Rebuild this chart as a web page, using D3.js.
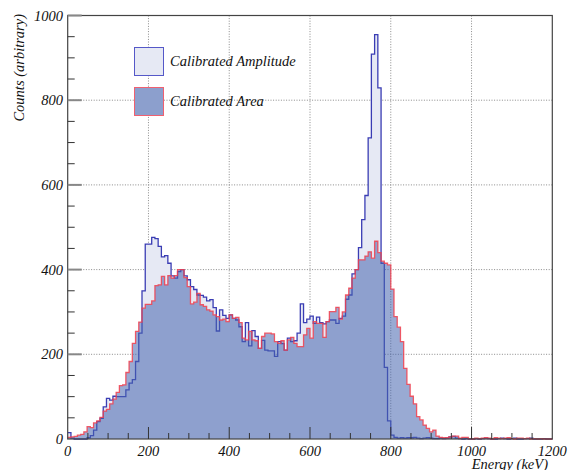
<!DOCTYPE html>
<html>
<head>
<meta charset="utf-8">
<script src="https://cdn.jsdelivr.net/npm/d3@7"></script>
<style>
  body { margin: 0; background: #fff; }
  svg { display: block; }
  text { font-family: "Liberation Serif", "DejaVu Serif", serif; font-style: italic; fill: #111; }
</style>
</head>
<body>
<div id="chart"></div>
<script>
// histogram binning, 8 keV per bin from 0 to 1200
var binWidth = 8
var energyMax = 1200

// calibrated amplitude counts per bin
var amplitudeCounts = [
  15, 2, 0, 0, 0, 0, 3, 8, 21, 41,
  49, 76, 96, 92, 101, 100, 100, 100, 116, 132,
  140, 183, 250, 350, 460, 460, 476, 473, 455, 430,
  433, 415, 385, 380, 395, 400, 385, 376, 360, 353,
  340, 339, 335, 326, 329, 310, 255, 305, 292, 285,
  293, 285, 281, 265, 230, 275, 220, 256, 242, 214,
  233, 210, 208, 208, 195, 230, 225, 210, 238, 230,
  232, 250, 319, 275, 283, 290, 273, 288, 275, 272,
  277, 281, 281, 273, 285, 290, 330, 340, 390, 400,
  452, 518, 575, 711, 909, 955, 829, 415, 169, 43,
  9, 4, 2, 3, 2, 3, 3, 4, 2, 1,
  2, 3, 2, 1, 1, 2, 1, 2, 5, 6,
  2, 1, 0, 1, 0, 0, 1, 0, 1, 2,
  1, 0, 0, 1, 2, 1, 0, 1, 2, 0,
  0, 1, 1, 2, 0, 0, 0, 1, 0, 0
]

// calibrated area counts per bin
var areaCounts = [
  4, 5, 6, 9, 11, 17, 29, 27, 38, 43,
  51, 66, 70, 83, 94, 110, 126, 128, 157, 183,
  226, 254, 276, 309, 318, 318, 326, 362, 364, 384,
  364, 386, 380, 386, 400, 400, 381, 360, 319, 323,
  344, 317, 313, 305, 302, 293, 289, 281, 283, 277,
  293, 285, 287, 275, 238, 234, 254, 234, 232, 214,
  242, 250, 250, 248, 230, 226, 232, 210, 234, 240,
  226, 218, 218, 246, 261, 238, 277, 273, 273, 240,
  277, 301, 301, 311, 283, 300, 340, 356, 380, 400,
  423, 423, 432, 442, 427, 467, 440, 420, 415, 411,
  354, 289, 264, 230, 167, 129, 101, 83, 53, 45,
  33, 25, 17, 21, 7, 4, 3, 3, 5, 7,
  7, 2, 4, 4, 1, 0, 2, 1, 2, 3,
  2, 0, 3, 2, 1, 2, 3, 1, 0, 2,
  2, 1, 2, 0, 1, 0, 1, 0, 0, 0
]

var xTicks = [0, 200, 400, 600, 800, 1000, 1200]
var yTicks = [0, 200, 400, 600, 800, 1000]
var legendLabels = ["Calibrated Amplitude", "Calibrated Area"]

var width = 575, height = 470
var padL = 67.7, padR = 552.3, padT = 15.5, padB = 439

var svg = d3.select('#chart').append('svg')
    .attr('width', width)
    .attr('height', height)

var x = d3.scaleLinear().domain([0, energyMax]).range([padL, padR])
var y = d3.scaleLinear().domain([0, 1000]).range([padB, padT])

// colours
var ampFill = '#e6e9f4', ampLine = '#3a3db4'
var areaFill = 'rgb(70,100,175)', areaAlpha = 0.55, areaLine = '#f2404e'

// grid
var grid = svg.append('g')
    .attr('stroke', '#8a8a8a')
    .attr('stroke-width', 1)
    .attr('stroke-dasharray', '1,1.6')
grid.selectAll('line.gx')
    .data(xTicks.slice(1, -1))
    .join('line')
    .attr('x1', d => x(d)).attr('x2', d => x(d))
    .attr('y1', padT).attr('y2', padB)
grid.selectAll('line.gy')
    .data(yTicks.slice(1, -1))
    .join('line')
    .attr('x1', padL).attr('x2', padR)
    .attr('y1', d => y(d)).attr('y2', d => y(d))

// histogram step data
function steps(counts) {
    var pts = counts.map((c, i) => [i * binWidth, c])
    pts.push([counts.length * binWidth, counts[counts.length - 1]])
    return pts
}

var area = d3.area()
    .curve(d3.curveStepAfter)
    .x(d => x(d[0]))
    .y0(y(0))
    .y1(d => y(d[1]))

var line = d3.line()
    .curve(d3.curveStepAfter)
    .x(d => x(d[0]))
    .y(d => y(d[1]))

var hist = svg.append('g')

hist.append('path')
    .attr('d', area(steps(amplitudeCounts)))
    .attr('fill', ampFill)
hist.append('path')
    .attr('d', line(steps(amplitudeCounts)))
    .attr('fill', 'none')
    .attr('stroke', ampLine)
    .attr('stroke-width', 1.3)

hist.append('path')
    .attr('d', area(steps(areaCounts)))
    .attr('fill', areaFill)
    .attr('fill-opacity', areaAlpha)
hist.append('path')
    .attr('d', line(steps(areaCounts)))
    .attr('fill', 'none')
    .attr('stroke', areaLine)
    .attr('stroke-opacity', 0.85)
    .attr('stroke-width', 1.3)

// frame
svg.append('rect')
    .attr('x', padL).attr('y', padT)
    .attr('width', padR - padL).attr('height', padB - padT)
    .attr('fill', 'none')
    .attr('stroke', '#444')
    .attr('stroke-width', 1.2)

// ticks
var ticks = svg.append('g')
ticks.selectAll('line.xmin')
    .data(d3.range(50, energyMax, 50).filter(d => d % 200 != 0))
    .join('line')
    .attr('x1', d => x(d)).attr('x2', d => x(d))
    .attr('y1', padB).attr('y2', padB - 6)
    .attr('stroke', '#333')
ticks.selectAll('line.xmaj')
    .data(xTicks.slice(1, -1))
    .join('line')
    .attr('x1', d => x(d)).attr('x2', d => x(d))
    .attr('y1', padB).attr('y2', padB - 12)
    .attr('stroke', '#333')
ticks.selectAll('line.ymin')
    .data(d3.range(50, 1000, 50).filter(d => d % 200 != 0))
    .join('line')
    .attr('x1', padL).attr('x2', padL + 7)
    .attr('y1', d => y(d)).attr('y2', d => y(d))
    .attr('stroke', '#333')
ticks.selectAll('line.ymaj')
    .data(yTicks.slice(1))
    .join('line')
    .attr('x1', padL).attr('x2', padL + 14)
    .attr('y1', d => y(d)).attr('y2', d => y(d))
    .attr('stroke', '#888')
    .attr('stroke-width', 2)

// tick labels
svg.append('g')
    .selectAll('text')
    .data(xTicks)
    .join('text')
    .attr('x', d => x(d))
    .attr('y', 456)
    .attr('text-anchor', 'middle')
    .attr('font-size', 14.5)
    .text(d => d)

svg.append('g')
    .selectAll('text')
    .data(yTicks)
    .join('text')
    .attr('x', 63)
    .attr('y', d => y(d))
    .attr('dy', '0.35em')
    .attr('text-anchor', 'end')
    .attr('font-size', 14.5)
    .text(d => d)

// axis titles
svg.append('text')
    .attr('x', 548)
    .attr('y', 469)
    .attr('text-anchor', 'end')
    .attr('font-size', 14.5)
    .text('Energy (keV)')

svg.append('text')
    .attr('transform', 'translate(24,14) rotate(-90)')
    .attr('text-anchor', 'end')
    .attr('font-size', 14.5)
    .text('Counts (arbitrary)')

// legend
var legend = svg.append('g')
legend.append('rect')
    .attr('x', 134.5).attr('y', 47.5).attr('width', 29).attr('height', 28)
    .attr('fill', ampFill).attr('stroke', '#5558c8')
legend.append('rect')
    .attr('x', 134.5).attr('y', 87.5).attr('width', 29).attr('height', 28)
    .attr('fill', '#fff')
legend.append('rect')
    .attr('x', 134.5).attr('y', 87.5).attr('width', 29).attr('height', 28)
    .attr('fill', areaFill).attr('fill-opacity', 0.62).attr('stroke', '#f06070')
legend.selectAll('text')
    .data(legendLabels)
    .join('text')
    .attr('x', 170)
    .attr('y', (d, i) => 66 + i * 40)
    .attr('font-size', 14.5)
    .text(d => d)
</script>
</body>
</html>
